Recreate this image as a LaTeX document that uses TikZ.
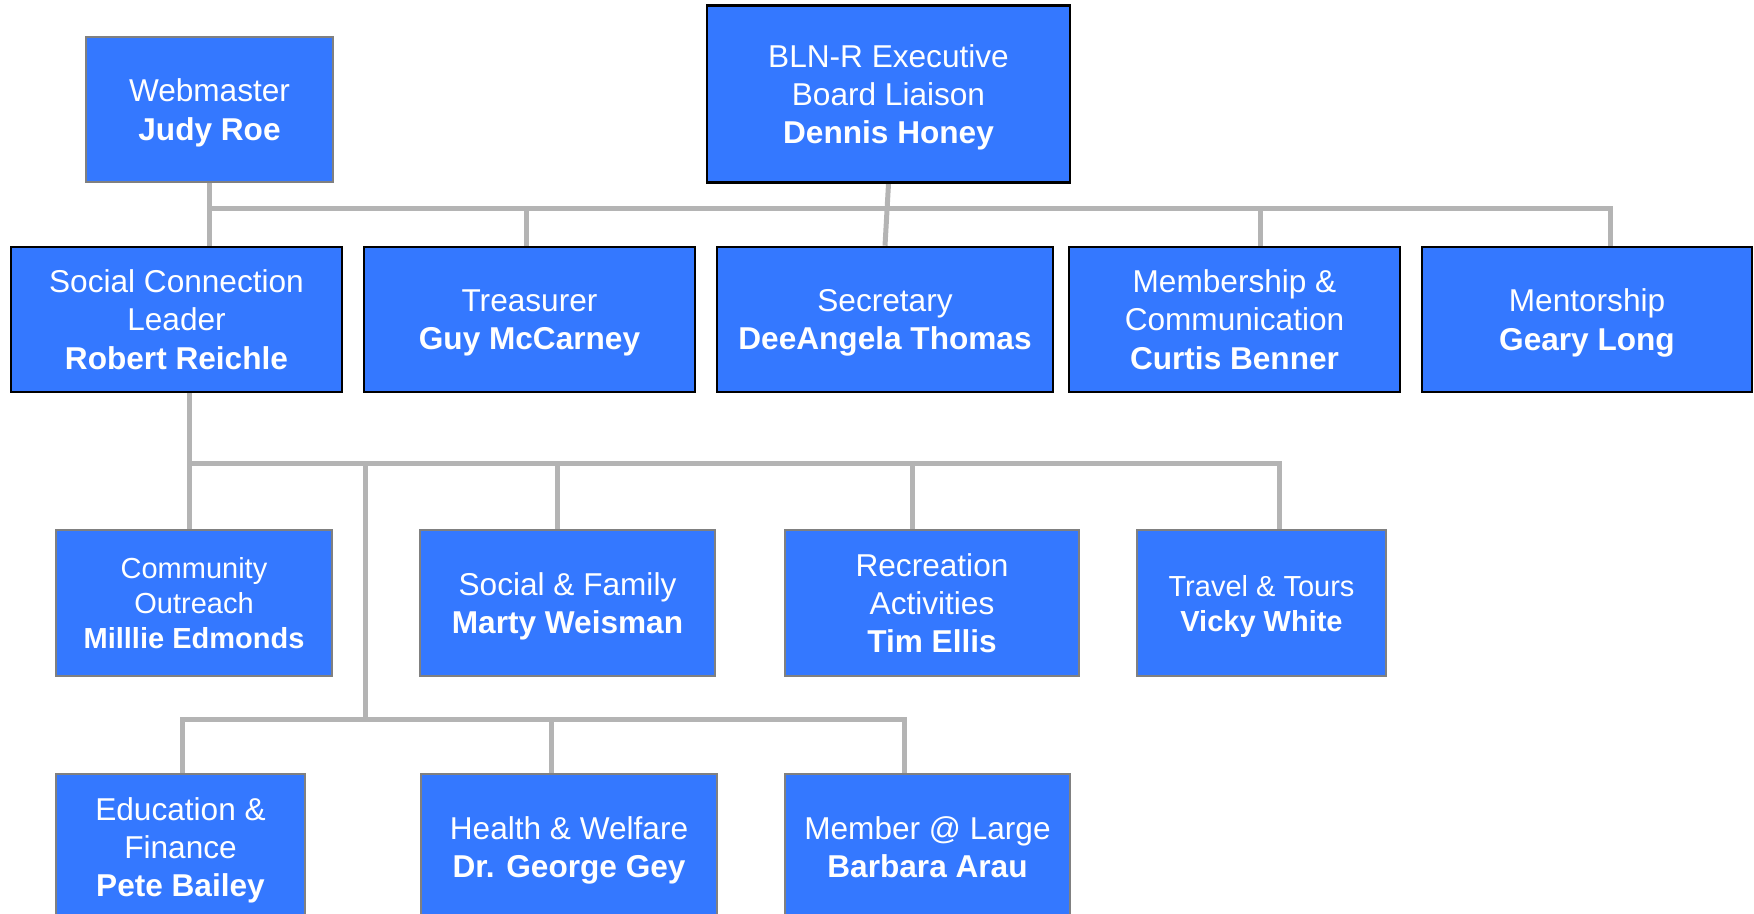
\documentclass[tikz,border=0pt]{standalone}
\usepackage{fontspec}
\setmainfont{Liberation Sans}
\usetikzlibrary{backgrounds}
\definecolor{boxblue}{RGB}{52,120,255}
\definecolor{conngray}{RGB}{180,180,180}
\definecolor{edgegray}{RGB}{128,128,128}
\tikzset{
  box/.style={rectangle, fill=boxblue, text=white, align=center, inner sep=0pt,
    text depth=-1.5pt, font=\fontsize{15.8pt}{19.2pt}\selectfont},
  blackbox/.style={box, draw=black, line width=1.3pt, text depth=-2.6pt},
  graybox/.style={box, draw=edgegray, line width=1pt},
  smalltext/.style={font=\fontsize{14.5pt}{17.5pt}\selectfont},
  conn/.style={draw=conngray, line width=2.5pt, line join=miter}
}
\begin{document}
\begin{tikzpicture}[x=0.5pt,y=-0.5pt]
\useasboundingbox (0,0) rectangle (1754,914);
\clip (0,0) rectangle (1754,914);
% top row
\node[graybox, text depth=-1pt, minimum width=123.5pt, minimum height=72.5pt] (web) at (209.5,109.5) {Webmaster\\\textbf{Judy Roe}};
\node[blackbox, minimum width=181.5pt, minimum height=88.5pt] (bln) at (888.5,94) {BLN-R Executive\\Board Liaison\\\textbf{Dennis Honey}};
% second row
\node[blackbox, minimum width=165.5pt, minimum height=72.5pt] (sc) at (176.5,319.5) {Social Connection\\Leader\\\textbf{Robert Reichle}};
\node[blackbox, minimum width=165.5pt, minimum height=72.5pt] (tre) at (529.5,319.5) {Treasurer\\\textbf{Guy McCarney}};
\node[blackbox, minimum width=168pt, minimum height=72.5pt] (sec) at (885,319.5) {Secretary\\\textbf{DeeAngela Thomas}};
\node[blackbox, minimum width=165.5pt, minimum height=72.5pt] (mem) at (1234.5,319.5) {Membership \&\\Communication\\\textbf{Curtis Benner}};
\node[blackbox, minimum width=165pt, minimum height=72.5pt] (men) at (1587,319.5) {Mentorship\\\textbf{Geary Long}};
% third row
\node[graybox, smalltext, minimum width=138pt, minimum height=73pt] (com) at (194,603) {Community\\Outreach\\\textbf{Milllie Edmonds}};
\node[graybox, minimum width=147.5pt, minimum height=73pt] (sf) at (567.5,603) {Social \& Family\\\textbf{Marty Weisman}};
\node[graybox, minimum width=147pt, minimum height=73pt] (rec) at (932,603) {Recreation\\Activities\\\textbf{Tim Ellis}};
\node[graybox, smalltext, text depth=-1pt, minimum width=124.5pt, minimum height=73pt] (tra) at (1261.5,603) {Travel \& Tours\\\textbf{Vicky White}};
% fourth row
\node[graybox, text depth=-1pt, minimum width=124.5pt, minimum height=73pt] (edu) at (180.5,847) {Education \&\\Finance\\\textbf{Pete Bailey}};
\node[graybox, minimum width=148pt, minimum height=73pt] (hw) at (569,847) {Health \& Welfare\\\textbf{Dr. George Gey}};
\node[graybox, minimum width=142.5pt, minimum height=73pt] (mal) at (927.5,847) {Member @ Large\\\textbf{Barbara Arau}};
% connectors
\coordinate (tR) at (1610,209);
\coordinate (tT) at (526,209);
\coordinate (tM) at (1260,209);
\coordinate (mL) at (189,463);
\coordinate (mR) at (1279,463);
\coordinate (mD) at (365,463);
\coordinate (mS) at (557,463);
\coordinate (mC) at (912,463);
\coordinate (bL) at (182,719);
\coordinate (bR) at (904,719);
\coordinate (bH) at (551,719);
\begin{scope}[on background layer]
\draw[conn] (web.south) -- (web.south |- sc.north);
\draw[conn] (web.south |- tR) -- (tR) -- (tR |- men.north);
\draw[conn] (tT) -- (tT |- tre.north);
\draw[conn] (tM) -- (tM |- mem.north);
\draw[conn] (bln.south) -- (sec.north);
\draw[conn] (mL |- sc.south) -- (mL |- com.north);
\draw[conn] (mL) -- (mR) -- (mR |- tra.north);
\draw[conn] (mS) -- (mS |- sf.north);
\draw[conn] (mC) -- (mC |- rec.north);
\draw[conn] (mD) -- (mD |- bL);
\draw[conn] (bL |- edu.north) -- (bL) -- (bR) -- (bR |- mal.north);
\draw[conn] (bH) -- (bH |- hw.north);
\end{scope}
\end{tikzpicture}
\end{document}
